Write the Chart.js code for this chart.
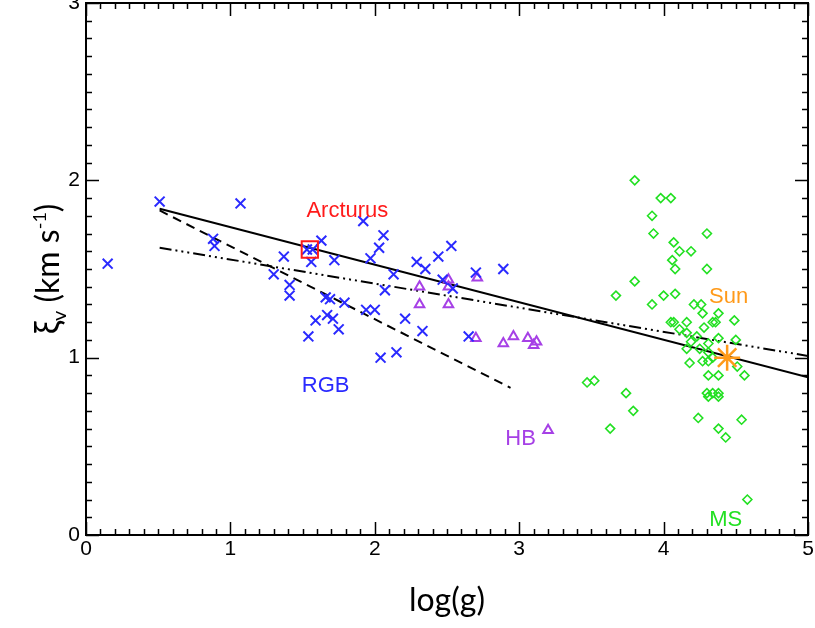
<!DOCTYPE html>
<html>
<head>
<meta charset="utf-8">
<script src="https://cdn.jsdelivr.net/npm/chart.js@4.4.1/dist/chart.umd.min.js"></script>
<style>
  html, body { margin: 0; padding: 0; background: #fff; }
  #wrap { width: 815px; height: 628px; }
</style>
</head>
<body>
<div id="wrap"><canvas id="xiChart" width="815" height="628"></canvas></div>
<script>
// log(g) vs microturbulence
var rgbLogg = [0.15, 0.51, 1.07, 0.88, 0.89, 1.30, 1.37, 1.41, 1.41, 1.53, 1.57, 1.63, 1.56, 1.72, 1.92, 2.06, 2.03, 1.97, 2.13, 2.07, 1.66, 1.69, 1.79, 1.94, 2.00, 1.59, 1.67, 1.71, 1.75, 1.54, 2.04, 2.15, 2.21, 2.33, 2.29, 2.35, 2.44, 2.53, 2.47, 2.54, 2.70, 2.89, 2.65];
var rgbXi   = [1.53, 1.88, 1.87, 1.67, 1.63, 1.47, 1.57, 1.41, 1.35, 1.61, 1.61, 1.66, 1.54, 1.55, 1.77, 1.69, 1.62, 1.56, 1.47, 1.38, 1.34, 1.33, 1.31, 1.27, 1.27, 1.21, 1.24, 1.22, 1.16, 1.12, 1.00, 1.03, 1.22, 1.15, 1.54, 1.50, 1.57, 1.63, 1.44, 1.39, 1.48, 1.50, 1.12];

var hbLogg = [2.31, 2.51, 2.51, 2.31, 2.51, 2.71, 2.70, 2.89, 2.96, 3.06, 3.10, 3.12, 3.20];
var hbXi   = [1.40, 1.44, 1.40, 1.30, 1.30, 1.45, 1.11, 1.08, 1.12, 1.11, 1.07, 1.09, 0.59];

var msLogg = [3.80, 3.98, 4.05, 3.92, 3.93, 4.30, 4.07, 4.11, 4.19, 4.06, 4.08, 4.30, 3.80, 3.67, 4.00, 4.08, 3.92, 4.21, 4.26, 4.27, 4.38, 4.05, 4.07, 4.16, 4.34, 4.36, 4.49, 4.11, 4.16, 4.28, 4.23, 4.19, 4.38, 4.50, 4.16, 4.25, 4.31, 4.31, 4.27, 4.31, 4.18, 4.34, 4.51, 4.31, 4.38, 4.56, 3.47, 3.52, 3.74, 3.79, 3.63, 4.30, 4.34, 4.38, 4.31, 4.38, 4.24, 4.54, 4.38, 4.43, 4.58];
var msXi   = [2.00, 1.90, 1.90, 1.80, 1.70, 1.70, 1.65, 1.60, 1.60, 1.55, 1.50, 1.50, 1.43, 1.35, 1.35, 1.36, 1.30, 1.30, 1.30, 1.25, 1.25, 1.20, 1.20, 1.20, 1.20, 1.20, 1.21, 1.16, 1.14, 1.17, 1.12, 1.09, 1.11, 1.10, 1.05, 1.05, 1.08, 1.03, 0.98, 0.98, 0.97, 1.00, 0.95, 0.90, 0.90, 0.90, 0.86, 0.87, 0.80, 0.70, 0.60, 0.80, 0.80, 0.80, 0.78, 0.78, 0.66, 0.65, 0.60, 0.55, 0.20];

var sunPoint = [4.44, 1.00];
var arcturusPoint = [1.55, 1.61];

// fit lines: [x0, y0, x1, y1]
var fitSolid   = [0.51, 1.84, 5.00, 0.89];
var fitDashed  = [0.51, 1.83, 2.94, 0.83];
var fitDashDot = [0.51, 1.62, 5.00, 1.01];

var xTicks = [0, 1, 2, 3, 4, 5];
var yTicks = [0, 1, 2, 3];

// text labels placed in data coordinates
var labelText  = ['Arcturus', 'RGB', 'HB', 'Sun', 'MS'];
var labelX     = [1.81, 1.66, 3.01, 4.45, 4.43];
var labelY     = [1.83, 0.84, 0.54, 1.34, 0.085];
var labelColor = ['#ff1a1a', '#2a2aff', '#a640e6', '#ff9a1a', '#22e022'];

function pts(xs, ys) {
  var out = [];
  for (var i = 0; i < xs.length; i++) out.push({x: xs[i], y: ys[i]});
  return out;
}
function seg(s) { return [{x: s[0], y: s[1]}, {x: s[2], y: s[3]}]; }

function lineSet(s, dash) {
  return {
    type: 'line', data: seg(s), borderColor: '#000', borderWidth: 2,
    borderDash: dash, pointRadius: 0, fill: false, tension: 0
  };
}

var tickFont = '21px "Liberation Sans", Arial, sans-serif';

var framePlugin = {
  id: 'frame',
  afterDatasetsDraw: function(chart) {
    var ctx = chart.ctx, a = chart.chartArea;
    var xs = chart.scales.x, ys = chart.scales.y;
    ctx.save();
    ctx.strokeStyle = '#000';
    ctx.lineWidth = 2;
    ctx.strokeRect(a.left, a.top, a.right - a.left, a.bottom - a.top);
    ctx.lineWidth = 1.5;
    ctx.beginPath();
    for (var i = 0; i <= 50; i++) {
      var v = i / 10, px = Math.round(xs.getPixelForValue(v)) + 0.5;
      var len = (i % 10 === 0) ? 13 : 6;
      ctx.moveTo(px, a.bottom); ctx.lineTo(px, a.bottom - len);
      ctx.moveTo(px, a.top); ctx.lineTo(px, a.top + len);
    }
    for (var j = 0; j <= 30; j++) {
      var w = j / 10, py = Math.round(ys.getPixelForValue(w)) + 0.5;
      var l2 = (j % 10 === 0) ? 13 : 6;
      ctx.moveTo(a.left, py); ctx.lineTo(a.left + l2, py);
      ctx.moveTo(a.right, py); ctx.lineTo(a.right - l2, py);
    }
    ctx.stroke();

    // tick labels
    ctx.fillStyle = '#000';
    ctx.font = tickFont;
    ctx.textAlign = 'center';
    ctx.textBaseline = 'middle';
    xTicks.forEach(function(t) { ctx.fillText(String(t), xs.getPixelForValue(t), a.bottom + 14); });
    ctx.textAlign = 'right';
    yTicks.forEach(function(t) { ctx.fillText(String(t), a.left - 6, ys.getPixelForValue(t)); });

    // labels
    ctx.font = '22px "Liberation Sans", Arial, sans-serif';
    ctx.textAlign = 'center';
    for (var k = 0; k < labelText.length; k++) {
      ctx.fillStyle = labelColor[k];
      ctx.fillText(labelText[k], xs.getPixelForValue(labelX[k]), ys.getPixelForValue(labelY[k]));
    }

    // x title
    ctx.fillStyle = '#000';
    ctx.font = '32px Lato, "Open Sans", sans-serif';
    ctx.textBaseline = 'alphabetic';
    ctx.fillText('log(g)', (a.left + a.right) / 2, 611);

    // y title with sub/superscript
    var parts = [
      ['ξ', '34px Lato, sans-serif', 0],
      ['v', '20px Lato, sans-serif', 7],
      [' (km s', '32px Lato, sans-serif', 0],
      ['-1', '18px Lato, sans-serif', -13],
      [')', '32px Lato, sans-serif', 0]
    ];
    var total = 0;
    for (var m = 0; m < parts.length; m++) {
      ctx.font = parts[m][1];
      total += ctx.measureText(parts[m][0]).width;
    }
    ctx.translate(59, (a.top + a.bottom) / 2);
    ctx.rotate(-Math.PI / 2);
    ctx.textAlign = 'left';
    var cx = -total / 2;
    for (var n = 0; n < parts.length; n++) {
      ctx.font = parts[n][1];
      ctx.fillText(parts[n][0], cx, parts[n][2]);
      cx += ctx.measureText(parts[n][0]).width;
    }
    ctx.restore();
  }
};

new Chart(document.getElementById('xiChart'), {
  type: 'scatter',
  data: {
    datasets: [
      {
        label: 'Sun', data: [{x: sunPoint[0], y: sunPoint[1]}], pointStyle: 'star',
        pointRadius: 13, borderColor: '#ff9a1a', borderWidth: 2.5
      },
      {
        label: 'Arcturus', data: [{x: arcturusPoint[0], y: arcturusPoint[1]}], pointStyle: 'rect',
        pointRadius: 11.5, borderColor: '#ff1a1a', borderWidth: 2, backgroundColor: 'rgba(0,0,0,0)'
      },
      {
        label: 'RGB', data: pts(rgbLogg, rgbXi), pointStyle: 'crossRot',
        pointRadius: 7, borderColor: '#2a2aff', borderWidth: 2
      },
      {
        label: 'HB', data: pts(hbLogg, hbXi), pointStyle: 'triangle',
        pointRadius: 5.5, borderColor: '#a640e6', borderWidth: 2, backgroundColor: 'rgba(0,0,0,0)'
      },
      {
        label: 'MS', data: pts(msLogg, msXi), pointStyle: 'rectRot',
        pointRadius: 4.5, borderColor: '#22e022', borderWidth: 1.6, backgroundColor: 'rgba(0,0,0,0)'
      },
      lineSet(fitSolid, []),
      lineSet(fitDashed, [9, 6]),
      lineSet(fitDashDot, [12, 4, 2, 4, 2, 4, 2, 4])
    ]
  },
  options: {
    responsive: false,
    animation: false,
    layout: { autoPadding: false, padding: { top: 3, right: 7, left: 0, bottom: 0 } },
    plugins: { legend: { display: false }, tooltip: { enabled: false } },
    scales: {
      x: {
        type: 'linear', min: 0, max: 5,
        grid: { display: false }, border: { display: false },
        ticks: { display: false },
        afterFit: function(s) { s.height = 93; }
      },
      y: {
        type: 'linear', min: 0, max: 3,
        grid: { display: false }, border: { display: false },
        ticks: { display: false },
        afterFit: function(s) { s.width = 86; }
      }
    }
  },
  plugins: [framePlugin]
});
</script>
</body>
</html>
